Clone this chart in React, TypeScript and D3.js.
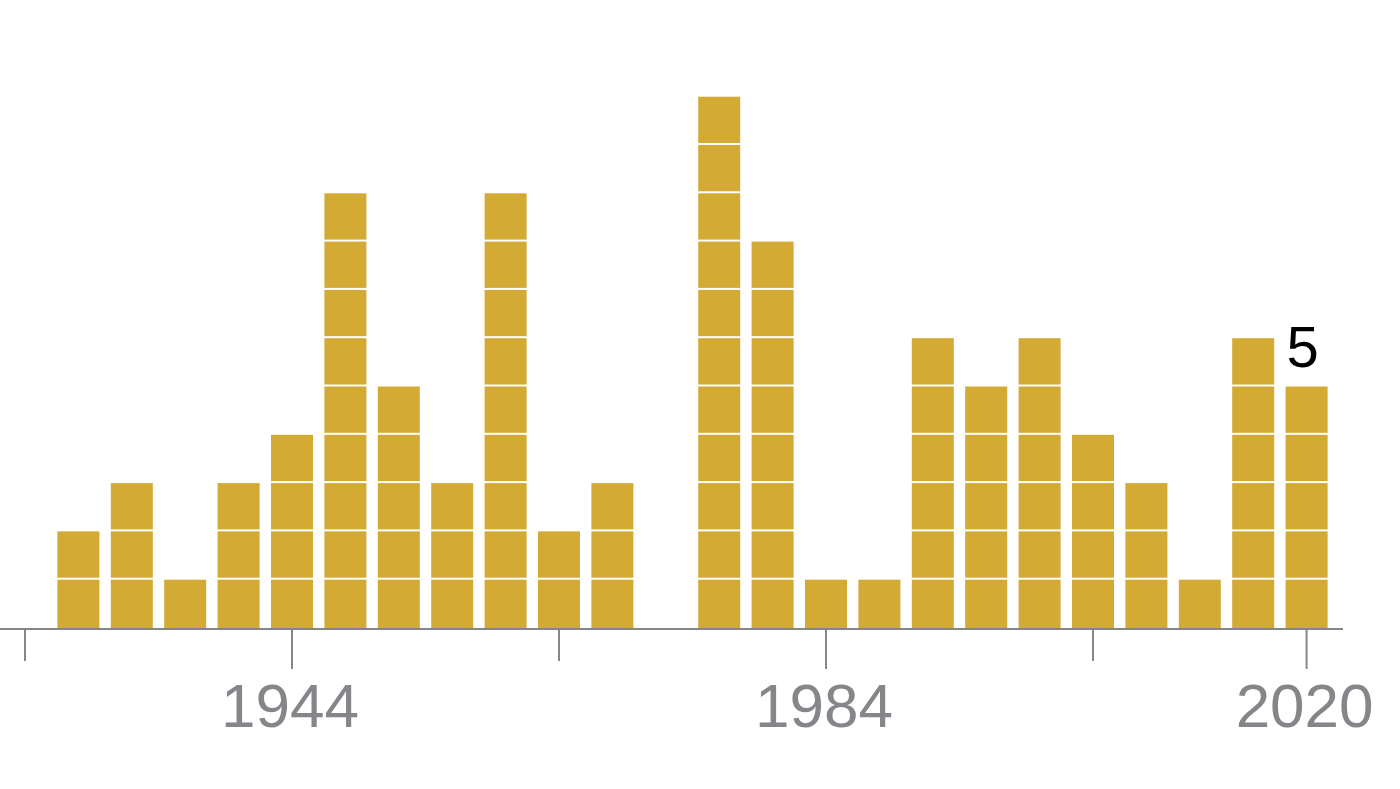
import React from "react";
import * as d3 from "d3";

const years = [1928, 1932, 1936, 1940, 1944, 1948, 1952, 1956, 1960, 1964, 1968, 1972, 1976, 1980, 1984, 1988, 1992, 1996, 2000, 2004, 2008, 2012, 2016, 2020];
const counts = [2, 3, 1, 3, 4, 9, 5, 3, 9, 2, 3, 0, 11, 8, 1, 1, 6, 5, 6, 4, 3, 1, 6, 5];
const tickYears = [1924, 1944, 1964, 1984, 2004, 2020];
const labelYears = [1944, 1984, 2020];
const lastLabel = "5";

const W = 1400;
const H = 789;

export default function App() {
  const x = d3.scaleLinear().domain([1944, 1984]).range([292, 826]);
  const baseline = 628;
  const unit = 48.3;
  const y = d3.scaleLinear().domain([0, 1]).range([baseline, baseline - unit]);
  const barW = 42;
  const fill = "#d3aa34";
  const gray = "#85868a";

  const rects: React.ReactNode[] = [];
  years.forEach((yr, k) => {
    const n = counts[k];
    for (let i = 0; i < n; i++) {
      const top = y(i + 1);
      const bottom = y(i) - (i === 0 ? 0 : 2);
      rects.push(
        <rect key={`${yr}-${i}`} x={x(yr) - barW / 2} y={top} width={barW} height={bottom - top} fill={fill} />
      );
    }
  });

  const lastIdx = years.length - 1;

  return (
    <svg width={W} height={H} style={{ position: "absolute", left: 0, top: 0, background: "#fff" }}>
      {rects}
      <line x1={0} x2={1343} y1={629} y2={629} stroke={gray} strokeWidth={2} />
      {tickYears.map((t) => (
        <line
          key={t}
          x1={x(t)}
          x2={x(t)}
          y1={630}
          y2={labelYears.includes(t) ? 669 : 661}
          stroke={gray}
          strokeWidth={2}
        />
      ))}
      {labelYears.map((t) => (
        <text
          key={t}
          x={x(t) - 2}
          y={727}
          textAnchor="middle"
          fill={gray}
          fontFamily="'Liberation Sans', Arial, sans-serif"
          fontSize={62}
        >
          {t}
        </text>
      ))}
      <text
        x={x(years[lastIdx]) - 20}
        y={367}
        fill="#000"
        fontFamily="'Liberation Sans', Arial, sans-serif"
        fontSize={58}
      >
        {lastLabel}
      </text>
    </svg>
  );
}
